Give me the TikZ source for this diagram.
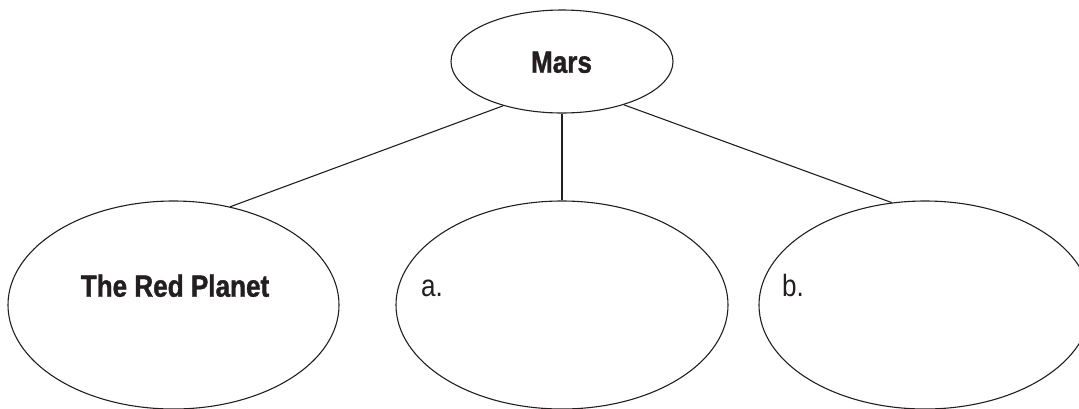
\documentclass[tikz,border=0pt]{standalone}
\usepackage{fontspec}
\newfontfamily\condfont[FakeStretch=0.85,BoldFeatures={FakeBold=1.2}]{Liberation Sans}
\usetikzlibrary{shapes.geometric}
\definecolor{ink}{HTML}{231F20}
\begin{document}
\begin{tikzpicture}[x=1pt,y=-1pt,
  oval/.style={draw=ink,ellipse,line width=1.1pt,inner sep=0pt,minimum width=#1},
  conn/.style={draw=ink,line width=1.1pt},
  boldlbl/.style={text=ink,font=\condfont\bfseries\fontsize{30.7}{34}\selectfont,inner sep=0pt,anchor=base},
  lbl/.style={text=ink,font=\condfont\fontsize{30.7}{34}\selectfont,inner sep=0pt,anchor=base west}]
\useasboundingbox (0,0) rectangle (1079,408);
\node[oval=222pt,minimum height=103pt] (mars) at (562,61.5) {};
\node[oval=331pt,minimum height=208pt] (red) at (173.5,305) {};
\node[oval=332pt,minimum height=208pt] (mid) at (562,305) {};
\node[oval=332pt,minimum height=208pt] (right) at (925,305) {};
\node[boldlbl] (tmars) at (561.5,72.7) {Mars};
\node[boldlbl] (tred) at (175,296.7) {The Red Planet};
\node[lbl] (ta) at (421,296.7) {a.};
\node[lbl] (tb) at (782,296.7) {b.};
\draw[conn] (mars.217) -- (red.60);
\draw[conn] (mars.south) -- (mid.north);
\draw[conn] (mars.325) -- (right.108);
\end{tikzpicture}
\end{document}
